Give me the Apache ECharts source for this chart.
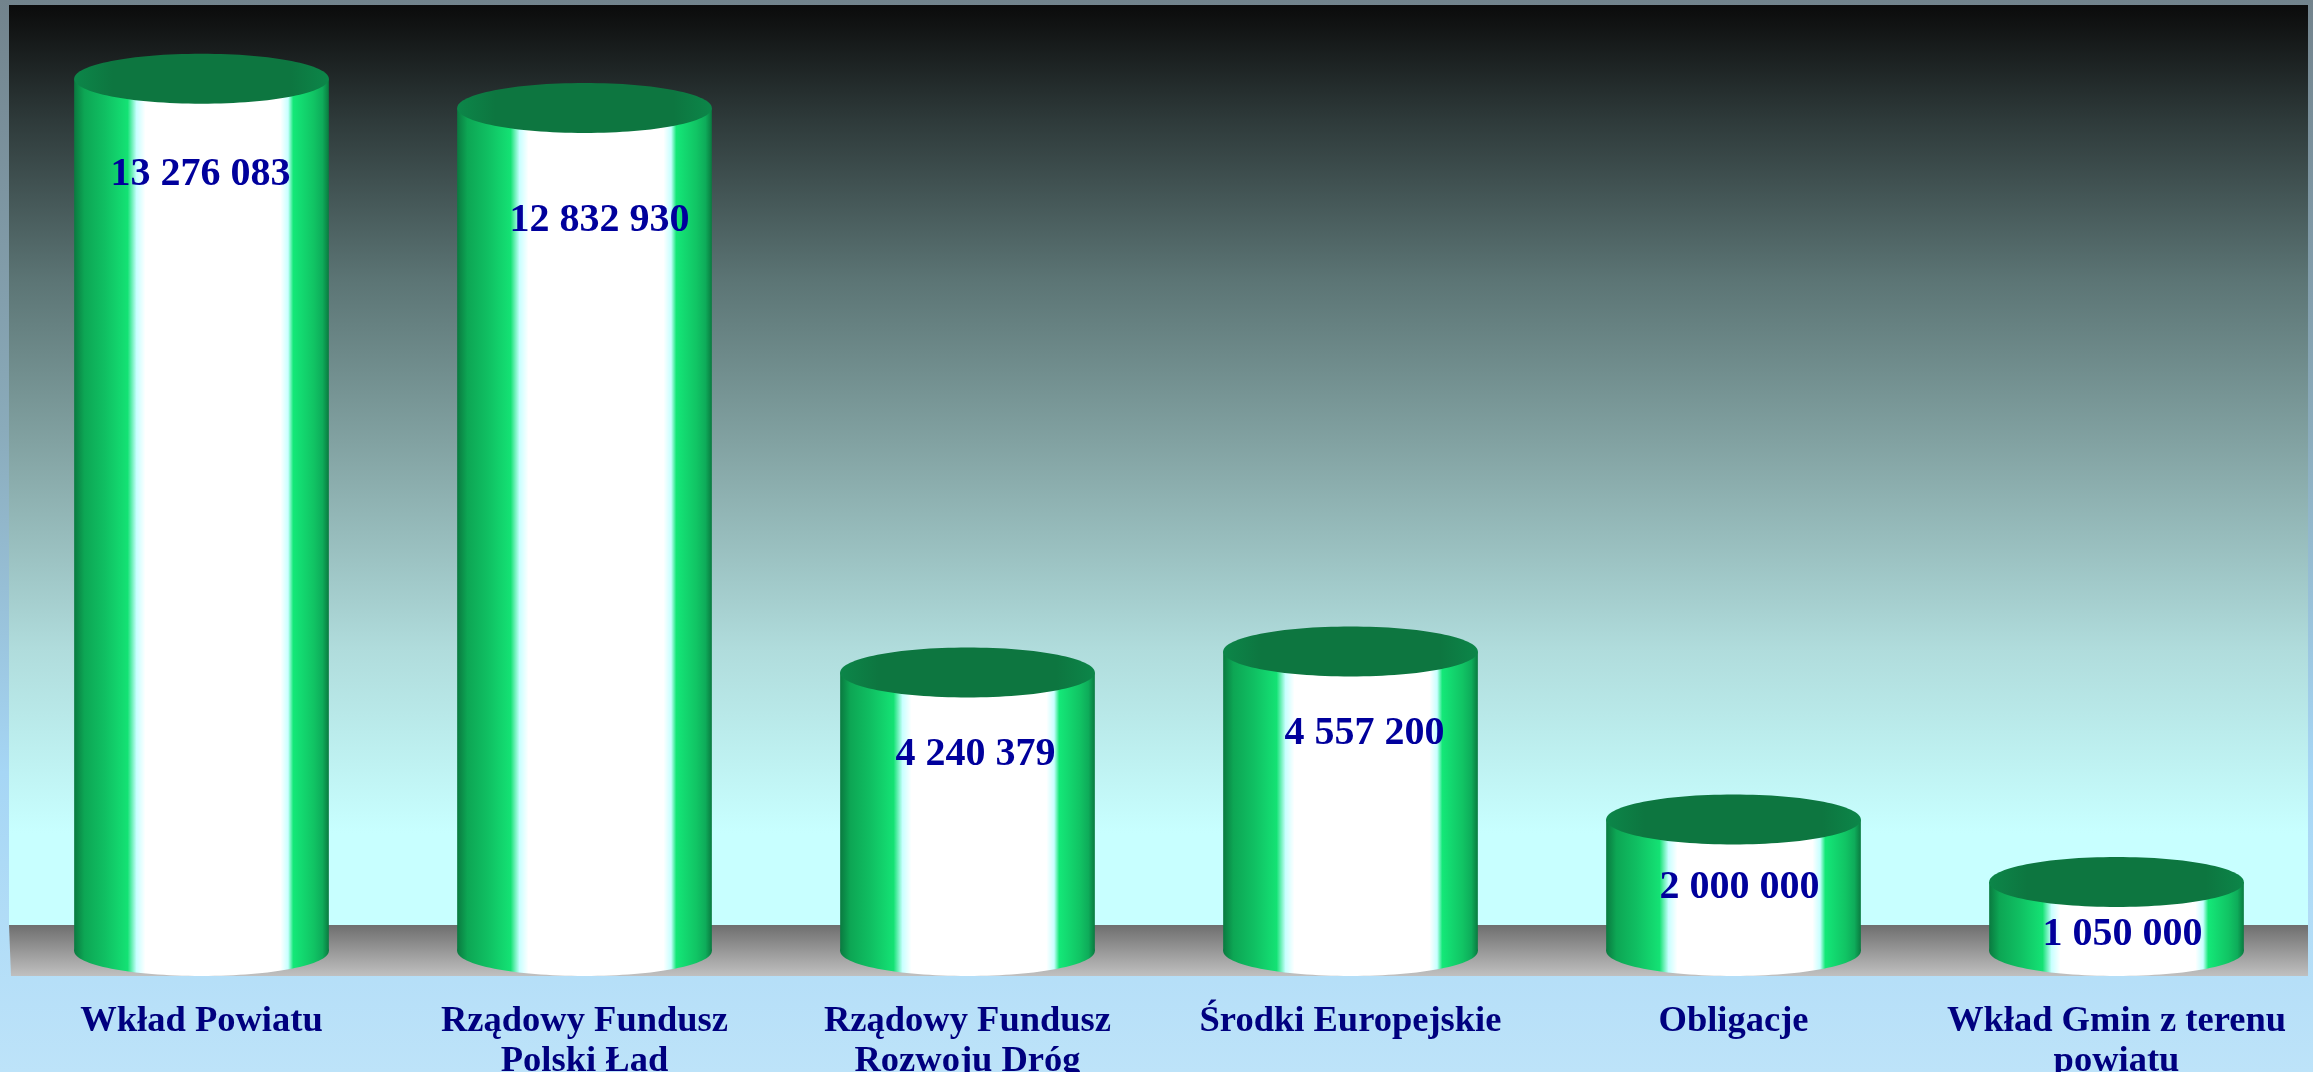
<!DOCTYPE html>
<html>
<head>
<meta charset="utf-8">
<style>
  html, body { margin: 0; padding: 0; overflow: hidden; }
  #chart { width: 2313px; height: 1072px; }
</style>
<script src="https://cdn.jsdelivr.net/npm/echarts@6/dist/echarts.min.js"></script>
</head>
<body>
<div id="chart"></div>
<script>
var categories = ['Wkład Powiatu', 'Rządowy Fundusz\nPolski Ład', 'Rządowy Fundusz\nRozwoju Dróg', 'Środki Europejskie', 'Obligacje', 'Wkład Gmin z terenu\npowiatu'];
var values = [13276083, 12832930, 4240379, 4557200, 2000000, 1050000];
var valueLabels = ['13 276 083', '12 832 930', '4 240 379', '4 557 200', '2 000 000', '1 050 000'];
// labels sit off-centre in the original, offset from the top of each cylinder
var labelDx = [-1, 15, 8, 14, 6, 6];
var labelDy = [96, 113, 82, 82, 68, 53];

var sideGradient = {
    type: 'linear', x: 0, y: 0, x2: 1, y2: 0,
    colorStops: [
        { offset: 0, color: '#0a7a40' },
        { offset: 0.04, color: '#0da654' },
        { offset: 0.12, color: '#10bf62' },
        { offset: 0.21, color: '#14e274' },
        { offset: 0.245, color: '#c8ffff' },
        { offset: 0.28, color: '#ffffff' },
        { offset: 0.81, color: '#ffffff' },
        { offset: 0.84, color: '#c8ffff' },
        { offset: 0.86, color: '#14e878' },
        { offset: 0.94, color: '#11c464' },
        { offset: 0.975, color: '#0eac5a' },
        { offset: 1, color: '#0a7a40' }
    ]
};

var capGradient = {
    type: 'linear', x: 0, y: 0, x2: 1, y2: 0,
    colorStops: [
        { offset: 0, color: '#0c8649' },
        { offset: 0.15, color: '#0d7640' },
        { offset: 0.85, color: '#0d7640' },
        { offset: 1, color: '#0c8649' }
    ]
};

function renderCylinder(params, api) {
    var i = api.value(0);
    var top = api.coord([i, api.value(1)]);
    var base = api.coord([i, 0]);
    var rx = api.size([1, 0])[0] * 0.3325;
    var ry = 25;
    return {
        type: 'group',
        children: [
            {
                type: 'rect',
                shape: { x: top[0] - rx, y: top[1], width: rx * 2, height: base[1] - top[1] },
                style: { fill: sideGradient }
            },
            {
                type: 'ellipse',
                shape: { cx: base[0], cy: base[1], rx: rx, ry: ry },
                style: { fill: sideGradient }
            },
            {
                type: 'ellipse',
                shape: { cx: top[0], cy: top[1], rx: rx, ry: ry },
                style: { fill: capGradient }
            },
            {
                type: 'text',
                style: {
                    x: top[0] + labelDx[i],
                    y: top[1] + labelDy[i],
                    text: valueLabels[i],
                    fill: '#00009c',
                    font: 'bold 40px "Liberation Serif"',
                    align: 'center',
                    verticalAlign: 'middle'
                }
            }
        ]
    };
}

var chart = echarts.init(document.getElementById('chart'));
chart.setOption({
    animation: false,
    backgroundColor: {
        type: 'linear', x: 0, y: 0, x2: 0, y2: 1,
        colorStops: [
            { offset: 0, color: '#72838c' },
            { offset: 0.4, color: '#8aabbb' },
            { offset: 0.72, color: '#a6d6f5' },
            { offset: 1, color: '#bde3f9' }
        ]
    },
    graphic: [
        {
            type: 'rect', z: -10, silent: true,
            shape: { x: 9, y: 5, width: 2299, height: 920 },
            style: {
                fill: {
                    type: 'linear', x: 0, y: 0, x2: 0, y2: 1,
                    colorStops: [
                        { offset: 0, color: '#0b0b0b' },
                        { offset: 0.125, color: '#2e3a3a' },
                        { offset: 0.3, color: '#5c7575' },
                        { offset: 0.5, color: '#87a8a8' },
                        { offset: 0.7, color: '#b0dcdc' },
                        { offset: 0.9, color: '#c8ffff' },
                        { offset: 1, color: '#c8ffff' }
                    ]
                }
            }
        },
        {
            type: 'polygon', z: -10, silent: true,
            shape: { points: [[9, 925], [2308, 925], [2308, 976], [11, 976]] },
            style: {
                fill: {
                    type: 'linear', x: 0, y: 0, x2: 0, y2: 1,
                    colorStops: [
                        { offset: 0, color: '#6e6e6e' },
                        { offset: 1, color: '#c0c0c0' }
                    ]
                }
            }
        }
    ],
    // outerBoundsMode none: the last label line runs off the bottom, as in the original
    grid: { left: 10, right: 5, top: 5, bottom: 121, outerBoundsMode: 'none' },
    xAxis: {
        type: 'category',
        data: categories,
        axisLine: { show: false },
        axisTick: { show: false },
        axisLabel: {
            interval: 0,
            margin: 51,
            lineHeight: 40,
            color: '#00007f',
            fontFamily: 'Liberation Serif',
            fontWeight: 'bold',
            fontSize: 36.5
        }
    },
    yAxis: { type: 'value', min: 0, max: 14400000, show: false, splitLine: { show: false } },
    series: [{
        type: 'custom',
        clip: false,
        renderItem: renderCylinder,
        encode: { x: 0, y: 1 },
        data: values.map(function (v, i) { return [i, v]; })
    }]
});
</script>
</body>
</html>
